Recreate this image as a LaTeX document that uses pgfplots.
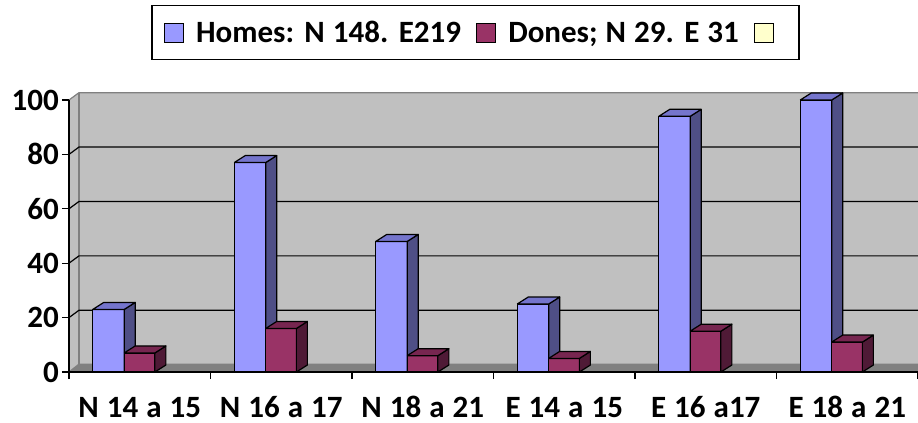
\documentclass[border=0pt]{standalone}
\usepackage{fontspec}
\setmainfont{Carlito}[WordSpace=1.15]
\usepackage{pgfplots}
\usepackage{pgfplotstable}
\pgfplotsset{compat=1.18}
\definecolor{homesF}{HTML}{9999FF}
\definecolor{homesS}{HTML}{4F4F86}
\definecolor{homesT}{HTML}{7575CC}
\definecolor{donesF}{HTML}{993366}
\definecolor{donesS}{HTML}{4F1A36}
\definecolor{donesT}{HTML}{772650}
\definecolor{wallc}{HTML}{C0C0C0}
\definecolor{floorc}{HTML}{808080}
\definecolor{edgec}{HTML}{808080}
\definecolor{legy}{HTML}{FFFFCC}

\pgfplotstableread{
idx homes dones
0 23 7
1 77 16
2 48 6
3 25 5
4 94 15
5 100 11
}\datatable

\def\bdx{0.0777}
\def\bdy{2.57}

\begin{document}
\begin{tikzpicture}
\begin{axis}[
  at={(0,0)}, anchor=south west,
  scale only axis, width=849bp, height=272bp,
  xmin=0, xmax=6, ymin=0, ymax=100,
  clip=false, axis on top,
  axis x line*=bottom, axis y line*=left,
  axis line style={black, line width=1.2bp},
  tick style={black, line width=1.2bp},
  major tick length=7bp, tick align=outside,
  xtick={0,1,...,6}, xticklabels={},
  extra x ticks={0.5,1.5,2.5,3.5,4.5,5.5},
  extra x tick labels={N 14 a 15, N 16 a 17, N 18 a 21, E 14 a 15, E 16 a17, E 18 a 21},
  extra x tick style={major tick length=0pt, xticklabel style={anchor=base, yshift=-45bp, inner sep=0pt}},
  ytick={0,20,...,100},
  yticklabel style={inner sep=3bp},
  /pgf/number format/assume math mode=true,
  tick label style={font=\fontsize{31bp}{33bp}\selectfont\bfseries},
  legend columns=3,
  legend cell align=left,
  legend style={at={(axis description cs:0.4788,1.2482)}, anchor=center,
    draw=black, line width=1.2bp, inner xsep=12bp, inner ysep=11bp,
    font=\fontsize{31bp}{33bp}\selectfont\bfseries,
    nodes={inner sep=0pt, text height=26bp, text depth=6bp},
    /tikz/every odd column/.append style={column sep=12bp},
    /tikz/every even column/.append style={column sep=15bp}},
]
% walls and floor
\addplot[forget plot, fill=wallc, draw=none] coordinates {(0,0) (0.0707,2.7) (0.0707,102.7) (0,100) (0,0)};
\addplot[forget plot, fill=wallc, draw=none] coordinates {(0.0707,2.7) (6.0707,2.7) (6.0707,102.7) (0.0707,102.7) (0.0707,2.7)};
\addplot[forget plot, edgec, line width=1.2bp] coordinates {(0,100) (0.0707,102.7) (6.0707,102.7)};
\addplot[forget plot, edgec, line width=1.2bp] coordinates {(0.0707,2.7) (0.0707,102.7)};
\addplot[forget plot, black, line width=1.2bp] coordinates {(0,20) (0.0707,22.7) (6.0707,22.7)};
\addplot[forget plot, black, line width=1.2bp] coordinates {(0,40) (0.0707,42.7) (6.0707,42.7)};
\addplot[forget plot, black, line width=1.2bp] coordinates {(0,60) (0.0707,62.7) (6.0707,62.7)};
\addplot[forget plot, black, line width=1.2bp] coordinates {(0,80) (0.0707,82.7) (6.0707,82.7)};
\addplot[forget plot, fill=floorc, draw=edgec, line width=1.2bp] coordinates {(0,0) (6,0) (6.0707,2.9) (0.0707,2.9) (0,0)};
% bars
\pgfplotsforeachungrouped \i in {0,1,...,5}{%
  \pgfplotstablegetelem{\i}{homes}\of\datatable \let\vh\pgfplotsretval
  \pgfplotstablegetelem{\i}{dones}\of\datatable \let\vd\pgfplotsretval
  \pgfmathsetmacro\xa{\i+0.168}%
  \pgfmathsetmacro\xb{\i+0.39}%
  \pgfmathsetmacro\xc{\i+0.607}%
  \pgfmathsetmacro\xad{\xa+\bdx}%
  \pgfmathsetmacro\xbd{\xb+\bdx}%
  \pgfmathsetmacro\xcd{\xc+\bdx}%
  \pgfmathsetmacro\vhd{\vh+\bdy}%
  \pgfmathsetmacro\vdd{\vd+\bdy}%
  \edef\tmp{%
    \noexpand\addplot[forget plot, fill=homesF, draw=black, line width=1.2bp, line join=round] coordinates {(\xa,0) (\xb,0) (\xb,\vh) (\xa,\vh) (\xa,0)};
    \noexpand\addplot[forget plot, fill=homesS, draw=black, line width=1.2bp, line join=round] coordinates {(\xb,0) (\xbd,\bdy) (\xbd,\vhd) (\xb,\vh) (\xb,0)};
    \noexpand\addplot[forget plot, fill=homesT, draw=black, line width=1.2bp, line join=round] coordinates {(\xa,\vh) (\xb,\vh) (\xbd,\vhd) (\xad,\vhd) (\xa,\vh)};
    \noexpand\addplot[forget plot, fill=donesF, draw=black, line width=1.2bp, line join=round] coordinates {(\xb,0) (\xc,0) (\xc,\vd) (\xb,\vd) (\xb,0)};
    \noexpand\addplot[forget plot, fill=donesS, draw=black, line width=1.2bp, line join=round] coordinates {(\xc,0) (\xcd,\bdy) (\xcd,\vdd) (\xc,\vd) (\xc,0)};
    \noexpand\addplot[forget plot, fill=donesT, draw=black, line width=1.2bp, line join=round] coordinates {(\xb,\vd) (\xc,\vd) (\xcd,\vdd) (\xbd,\vdd) (\xb,\vd)};
  }\tmp
}
\addlegendimage{legend image code/.code={\draw[fill=homesF, draw=black, line width=1.2bp] (0bp,-10bp) rectangle (19bp,9bp);}}
\addlegendentry{Homes: N 148. E219}
\addlegendimage{legend image code/.code={\draw[fill=donesF, draw=black, line width=1.2bp] (0bp,-10bp) rectangle (19bp,9bp);}}
\addlegendentry{Dones; N 29. E 31}
\addlegendimage{legend image code/.code={\draw[fill=legy, draw=black, line width=1.2bp] (0bp,-10bp) rectangle (19bp,9bp);}}
\addlegendentry{}
\end{axis}
\pgfresetboundingbox
\useasboundingbox (-69bp,-51bp) rectangle (849bp,372bp);
\end{tikzpicture}
\end{document}
